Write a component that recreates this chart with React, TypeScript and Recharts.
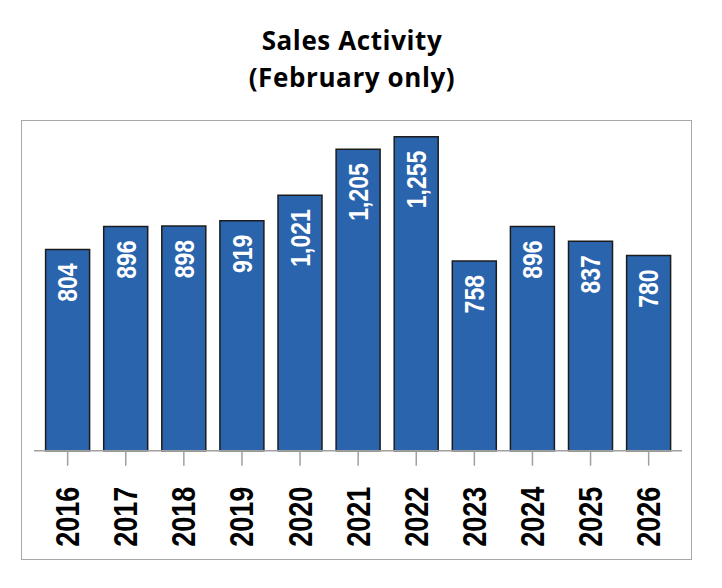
import { Bar, BarChart, LabelList, XAxis, YAxis } from "recharts";

const years = ["2016", "2017", "2018", "2019", "2020", "2021", "2022", "2023", "2024", "2025", "2026"];
const sales = [804, 896, 898, 919, 1021, 1205, 1255, 758, 896, 837, 780];

const data = years.map((year, i) => ({ year, sales: sales[i] }));

const SANS = "'Liberation Sans', Arial, sans-serif";
const TITLE_FONT = "'Open Sans', Lato, sans-serif";

function YearTick({ x, y, payload }: any) {
  return (
    <text
      transform={`translate(${x},${y + 21}) rotate(-90) scale(0.82,1)`}
      textAnchor="end"
      dominantBaseline="central"
      fontFamily={SANS}
      fontWeight={700}
      fontSize={33}
      fill="#000"
    >
      {payload.value}
    </text>
  );
}

function BarValue({ x, y, width, value }: any) {
  const cx = Number(x) + Number(width) / 2;
  return (
    <text
      transform={`translate(${cx},${Number(y) + 14}) rotate(-90) scale(0.82,1)`}
      textAnchor="end"
      dominantBaseline="central"
      fontFamily={SANS}
      fontWeight={700}
      fontSize={28}
      fill="#fff"
    >
      {Number(value).toLocaleString("en-US")}
    </text>
  );
}

export default function App() {
  return (
    <div style={{ position: "absolute", left: 0, top: 0, width: 722, height: 588, background: "#fff" }}>
      <div
        style={{
          position: "absolute", left: 21, top: 120, width: 671, height: 440,
          border: "1.5px solid #a8a8a8", boxSizing: "border-box",
        }}
      />
      <svg width={722} height={110} style={{ position: "absolute", left: 0, top: 0 }}>
        <text x={352} y={50} textAnchor="middle" fontFamily={TITLE_FONT} fontWeight={700} fontSize={26} letterSpacing={0.6} fill="#000">
          Sales Activity
        </text>
        <text x={352} y={87} textAnchor="middle" fontFamily={TITLE_FONT} fontWeight={700} fontSize={26} letterSpacing={0.6} fill="#000">
          (February only)
        </text>
      </svg>
      <div style={{ position: "absolute", left: 0, top: 0 }}>
        <BarChart width={722} height={588} data={data} margin={{ top: 120, right: 40, left: 34, bottom: 0 }}>
          <XAxis
            dataKey="year"
            padding={{ left: 4.6, right: 4.3 }}
            axisLine={{ stroke: "#a0a0a0", strokeWidth: 1.5 }}
            tickLine={{ stroke: "#a0a0a0", strokeWidth: 1.5 }}
            tickSize={15}
            tickMargin={0}
            interval={0}
            tick={<YearTick />}
            height={137.3}
          />
          <YAxis hide domain={[0, 1322]} />
          <Bar dataKey="sales" barSize={44} fill="#2a64ad" stroke="#1c1c1c" strokeWidth={1.5} isAnimationActive={false}>
            <LabelList dataKey="sales" content={<BarValue />} />
          </Bar>
        </BarChart>
      </div>
    </div>
  );
}
